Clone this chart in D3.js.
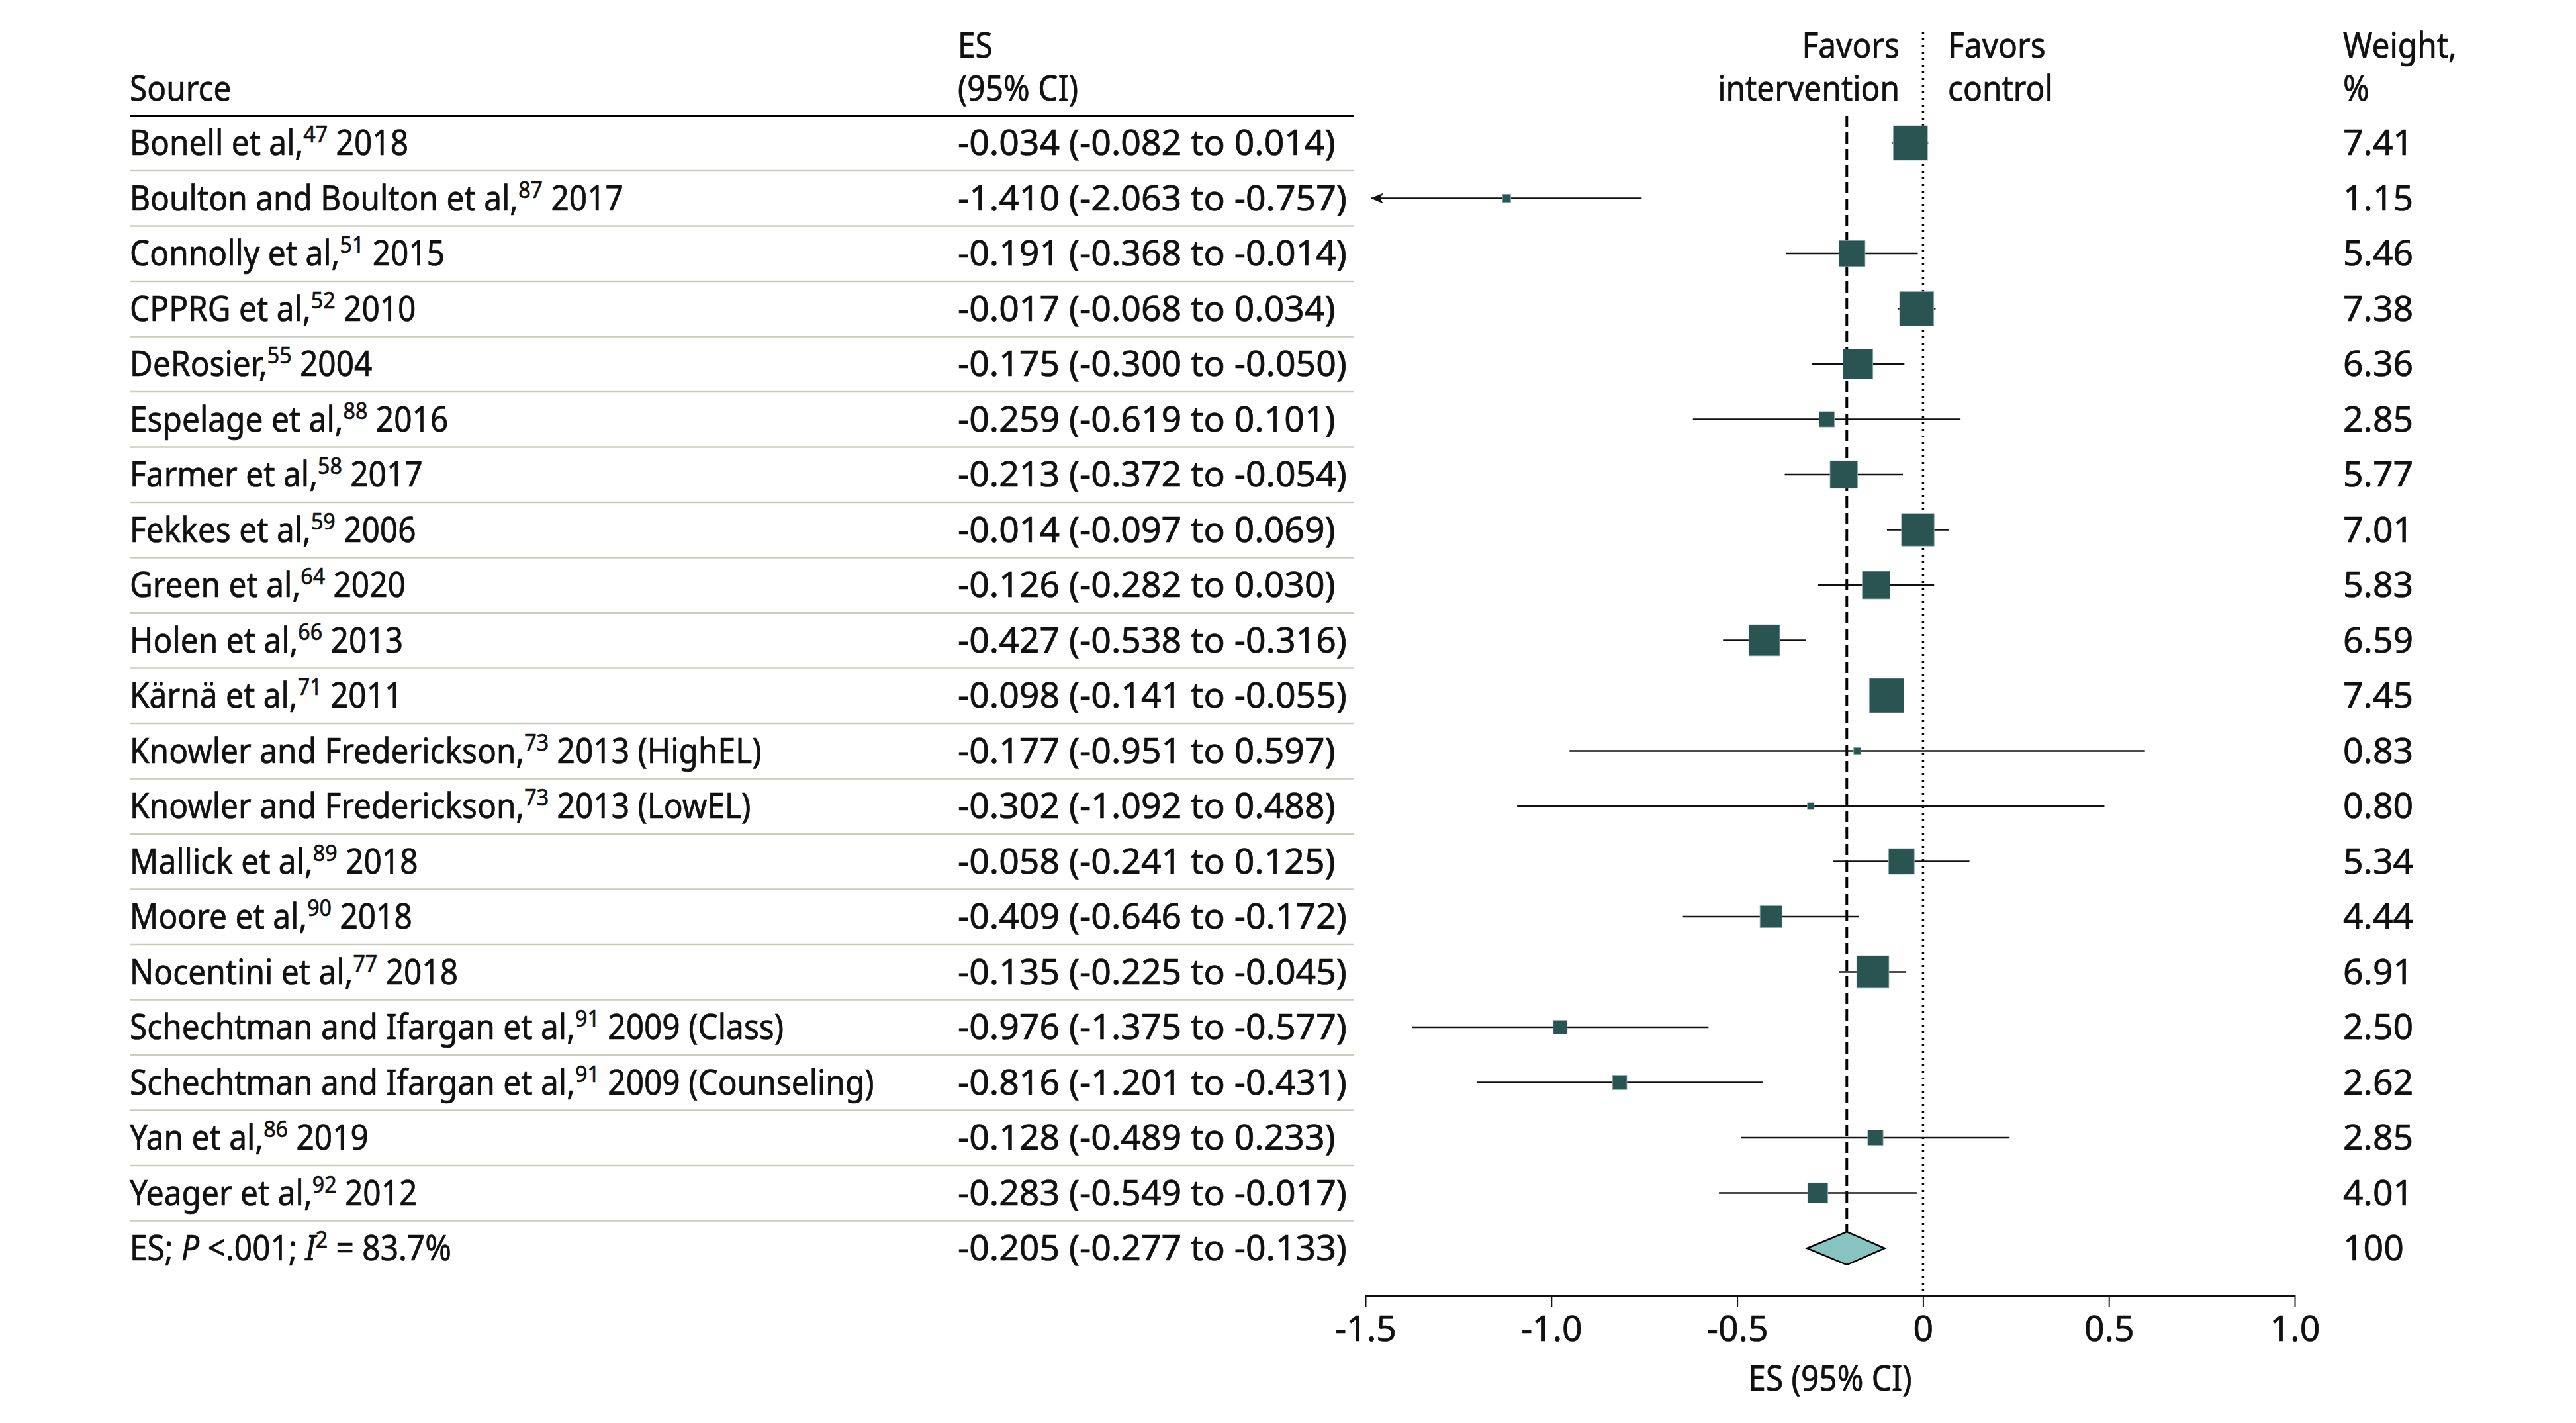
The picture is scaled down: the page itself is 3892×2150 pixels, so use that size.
<!DOCTYPE html>
<html>
<head>
<meta charset="utf-8">
<script src="https://cdn.jsdelivr.net/npm/d3@7"></script>
<style>
  html, body { margin: 0; padding: 0; background: #fff; }
  text { font-family: "Noto Sans", "Open Sans", sans-serif; fill: #111; stroke: #111; stroke-width: 0.7px; }
</style>
</head>
<body>
<script>
// 数据：每个研究
const sources = ["Bonell et al,", "Boulton and Boulton et al,", "Connolly et al,", "CPPRG et al,", "DeRosier,",
  "Espelage et al,", "Farmer et al,", "Fekkes et al,", "Green et al,", "Holen et al,", "Kärnä et al,",
  "Knowler and Frederickson,", "Knowler and Frederickson,", "Mallick et al,", "Moore et al,", "Nocentini et al,",
  "Schechtman and Ifargan et al,", "Schechtman and Ifargan et al,", "Yan et al,", "Yeager et al,"];
const refs = ["47", "87", "51", "52", "55", "88", "58", "59", "64", "66", "71", "73", "73", "89", "90", "77", "91", "91", "86", "92"];
const years = ["2018", "2017", "2015", "2010", "2004", "2016", "2017", "2006", "2020", "2013", "2011",
  "2013 (HighEL)", "2013 (LowEL)", "2018", "2018", "2018", "2009 (Class)", "2009 (Counseling)", "2019", "2012"];
const es = [-0.034, -1.410, -0.191, -0.017, -0.175, -0.259, -0.213, -0.014, -0.126, -0.427, -0.098,
  -0.177, -0.302, -0.058, -0.409, -0.135, -0.976, -0.816, -0.128, -0.283];
const lower = [-0.082, -2.063, -0.368, -0.068, -0.300, -0.619, -0.372, -0.097, -0.282, -0.538, -0.141,
  -0.951, -1.092, -0.241, -0.646, -0.225, -1.375, -1.201, -0.489, -0.549];
const upper = [0.014, -0.757, -0.014, 0.034, -0.050, 0.101, -0.054, 0.069, 0.030, -0.316, -0.055,
  0.597, 0.488, 0.125, -0.172, -0.045, -0.577, -0.431, 0.233, -0.017];
const weights = [7.41, 1.15, 5.46, 7.38, 6.36, 2.85, 5.77, 7.01, 5.83, 6.59, 7.45,
  0.83, 0.80, 5.34, 4.44, 6.91, 2.50, 2.62, 2.85, 4.01];
// 图中 Boulton 的方块画在约 -1.12 处
const markerShift = { 1: -1.12 };
// 合并效应
const pooled = { es: -0.205, lo: -0.277, hi: -0.133, weight: "100" };
// 图中菱形的实际左右端
const diamondSpan = [-0.312, -0.103];
const ticks = [-1.5, -1.0, -0.5, 0, 0.5, 1.0];

const SX = 0.92;   // 文字横向压缩
const SXD = 1.03;  // 数字列
const FS = 52;

const svg = d3.select("body").append("svg")
  .attr("width", 3892).attr("height", 2150);

const x = d3.scaleLinear().domain([-1.5, 1.0]).range([2063, 3467]);
const y = d3.scaleLinear().domain([0, 20]).range([216, 1886]);
const side = d3.scaleLinear().domain([0, 8]).range([5.2, 55.6]);

const fmt = v => v.toFixed(3);

function label(x0, y0, anchor, sx) {
  return svg.append("g").attr("transform", `translate(${x0},${y0}) scale(${sx || SX},1)`)
    .append("text").attr("text-anchor", anchor || "start").style("font-size", FS + "px");
}

// 表头
label(196, 152).text("Source");
label(1447, 87).text("ES");
label(1447, 152).text("(95% CI)");
label(2870, 87, "end").text("Favors");
label(2870, 152, "end").text("intervention");
label(2943, 87).text("Favors");
label(2943, 152).text("control");
label(3540, 87).text("Weight,");
label(3540, 152).text("%");

svg.append("line").attr("x1", 196).attr("x2", 2046).attr("y1", 175).attr("y2", 175)
  .attr("stroke", "#000").attr("stroke-width", 4);

// 行分隔线
svg.selectAll(".sep").data(d3.range(20)).enter().append("line")
  .attr("x1", 196).attr("x2", 2046)
  .attr("y1", i => y(i) + 42).attr("y2", i => y(i) + 42)
  .attr("stroke", "#c9ccbf").attr("stroke-width", 2.5);

// 文字列
sources.forEach((s, i) => {
  const t = label(196, y(i) + 18);
  t.append("tspan").text(s);
  t.append("tspan").attr("dy", -19).style("font-size", "35px").text(refs[i]);
  t.append("tspan").attr("dy", 19).text(" " + years[i]);
  label(1447, y(i) + 18, "start", SXD).text(`${fmt(es[i])} (${fmt(lower[i])} to ${fmt(upper[i])})`);
  label(3540, y(i) + 18, "start", SXD).text(weights[i].toFixed(2));
});

const st = label(196, y(20) + 18);
st.append("tspan").text("ES; ");
st.append("tspan").style("font-style", "italic").text("P");
st.append("tspan").text(" <.001; ");
st.append("tspan").style("font-style", "italic").text("I");
st.append("tspan").attr("dy", -19).style("font-size", "35px").text("2");
st.append("tspan").attr("dy", 19).text(" = 83.7%");
label(1447, y(20) + 18, "start", SXD).text(`${fmt(pooled.es)} (${fmt(pooled.lo)} to ${fmt(pooled.hi)})`);
label(3540, y(20) + 18, "start", SXD).text(pooled.weight);

// 参考线
svg.append("line").attr("x1", x(0)).attr("x2", x(0)).attr("y1", 48).attr("y2", 1957)
  .attr("stroke", "#000").attr("stroke-width", 3.5).attr("stroke-dasharray", "3,7");
svg.append("line").attr("x1", x(pooled.es)).attr("x2", x(pooled.es)).attr("y1", 175).attr("y2", y(20) - 25)
  .attr("stroke", "#000").attr("stroke-width", 4).attr("stroke-dasharray", "17,8");

// 置信区间
const rows = d3.range(20);
svg.selectAll(".ci").data(rows).enter().append("line")
  .attr("x1", i => x(Math.max(lower[i], -1.5)) + (lower[i] < -1.5 ? 8 : 0))
  .attr("x2", i => x(Math.min(upper[i], 1.0)))
  .attr("y1", i => y(i)).attr("y2", i => y(i))
  .attr("stroke", "#111").attr("stroke-width", 2.5);

// 超出范围的箭头
rows.filter(i => lower[i] < -1.5).forEach(i => {
  const tx = x(-1.5) + 8, cy = y(i);
  svg.append("path")
    .attr("d", `M${tx},${cy} L${tx + 19},${cy - 8} L${tx + 14},${cy} L${tx + 19},${cy + 8} Z`)
    .attr("fill", "#111");
});

// 方块
svg.selectAll(".box").data(rows).enter().append("rect")
  .attr("x", i => x(markerShift[i] ?? es[i]) - side(weights[i]) / 2)
  .attr("y", i => y(i) - side(weights[i]) / 2)
  .attr("width", i => side(weights[i]))
  .attr("height", i => side(weights[i]))
  .attr("fill", "#2a5452").attr("stroke", "#8fb0ae").attr("stroke-width", 0.8);

// 菱形
const cy = y(20);
svg.append("path")
  .attr("d", `M${x(diamondSpan[0])},${cy} L${x(pooled.es)},${cy - 25} L${x(diamondSpan[1])},${cy} L${x(pooled.es)},${cy + 25} Z`)
  .attr("fill", "#87c3c0").attr("stroke", "#000").attr("stroke-width", 2.5);

// 坐标轴
const axis = svg.append("g").attr("transform", "translate(0,1957)")
  .call(d3.axisBottom(x).tickValues(ticks).tickSize(17).tickSizeOuter(0)
    .tickFormat(d => d === 0 ? "0" : d.toFixed(1)));
axis.select(".domain").attr("stroke", "#111").attr("stroke-width", 3);
axis.selectAll(".tick line").attr("stroke", "#111").attr("stroke-width", 2);
axis.selectAll(".tick text")
  .attr("y", 69).attr("dy", 0)
  .attr("transform", `scale(${SXD},1)`)
  .style("font-size", FS + "px").style("font-family", "'Noto Sans', sans-serif")
  .attr("fill", "#111").attr("stroke", "#111").attr("stroke-width", 0.7);

label(x(-0.25), 2101, "middle").text("ES (95% CI)");
</script>
</body>
</html>
